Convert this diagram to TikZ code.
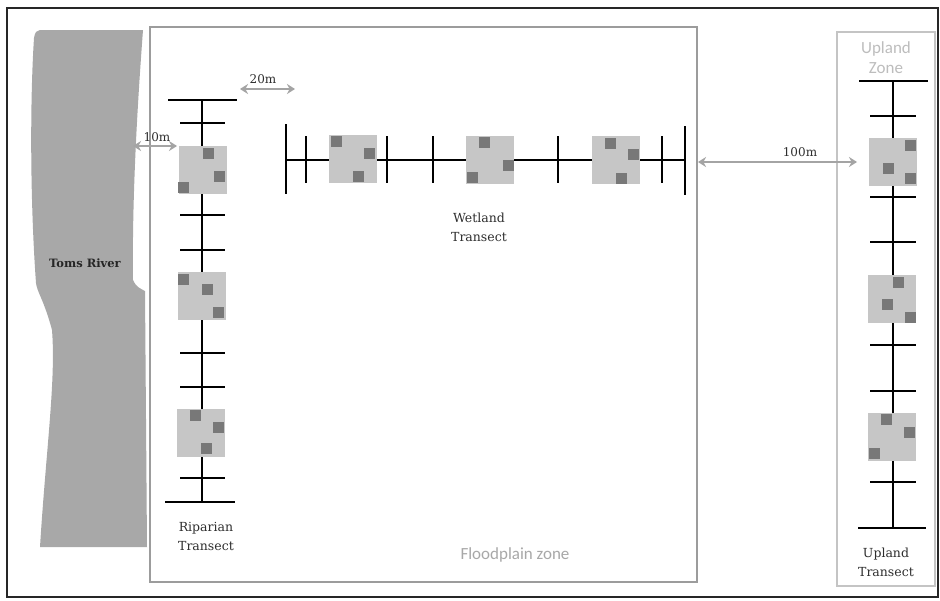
\documentclass[tikz,border=0pt]{standalone}
\usepackage{fontspec}
\setmainfont{DejaVu Serif}
\newfontfamily\zonefont{Carlito}
\usetikzlibrary{arrows.meta}
\definecolor{riverc}{HTML}{A8A8A8}
\definecolor{quadc}{HTML}{C6C6C6}
\definecolor{dotc}{HTML}{787878}
\definecolor{arrowc}{HTML}{A4A4A4}
\definecolor{fpbox}{HTML}{9C9C9C}
\definecolor{upbox}{HTML}{C4C4C4}
\definecolor{fptext}{HTML}{A8A8A8}
\definecolor{uptext}{HTML}{BDBDBD}
\definecolor{labc}{HTML}{2E2E2E}
\begin{document}
\begin{tikzpicture}[x=1pt,y=-1pt,
  quad/.style={fill=quadc, minimum size=48pt, inner sep=0pt, draw=none},
  plotsq/.style={fill=dotc, minimum size=11pt, inner sep=0pt, draw=none},
  tline/.style={line width=2.7pt, black},
  dimarrow/.style={draw=arrowc, line width=2.5pt, {Stealth[length=8pt,width=10pt]}-{Stealth[length=8pt,width=10pt]}},
  lab/.style={font=\fontsize{12.5}{19}\selectfont, text=labc, align=center, inner sep=0pt},
  dimlab/.style={font=\fontsize{12}{14}\selectfont, text=labc, inner sep=0pt},
  zonelab/.style={font=\zonefont\fontsize{17}{20}\selectfont, align=center, inner sep=0pt}
]
\useasboundingbox (0,0) rectangle (940,600);
\fill[white] (0,0) rectangle (940,600);

% outer frame
\draw[line width=1.3pt, black!85] (7,8) rectangle (938,597);

% river
\fill[riverc] (40,30) -- (143,30) .. controls (137,110) and (132,200) .. (133,280)
  .. controls (136,287) and (141,289) .. (145,291) -- (147,547) -- (40,547)
  .. controls (46,450) and (56,380) .. (52,330)
  .. controls (44,300) and (37,292) .. (36,283)
  .. controls (30,200) and (30,100) .. (34,38) .. controls (35,32) and (37,30) .. (40,30) -- cycle;
\node[font=\bfseries\fontsize{11.5}{14}\selectfont, text=black!85, inner sep=0pt] (river) at (85,263) {Toms River};

% zone boxes
\draw[fpbox, line width=2.7pt] (150,27) rectangle (697,582);
\node[zonelab, text=fptext] (fpz) at (515,555) {Floodplain zone};
\draw[upbox, line width=2.7pt] (837,32) rectangle (935,586);
\node[zonelab, text=uptext] (upz) at (886,58) {Upland\\Zone};

% ---------- Riparian transect ----------
\draw[tline] (202,100) -- (202,502);
\draw[tline] (168,100) -- (237,100);
\draw[tline] (165,502) -- (235,502);
\foreach \yy in {123,215,250,353,387,478}
  \draw[tline] (180,\yy) -- (225,\yy);
\node[quad] (R1) at (203,170) {};
\node[quad] (R2) at (202,296) {};
\node[quad] (R3) at (201,433) {};
\node[plotsq] (R1a) at (208,153) {};
\node[plotsq] (R1b) at (219,176) {};
\node[plotsq] (R1c) at (183,187) {};
\node[plotsq] (R2a) at (183,279) {};
\node[plotsq] (R2b) at (207,289) {};
\node[plotsq] (R2c) at (218,312) {};
\node[plotsq] (R3a) at (195,415) {};
\node[plotsq] (R3b) at (218,427) {};
\node[plotsq] (R3c) at (206,448) {};
\node[lab] (riplab) at (206,536) {Riparian\\Transect};

% ---------- Wetland transect ----------
\draw[tline] (286,160) -- (685,160);
\draw[tline] (286,124) -- (286,194);
\draw[tline] (685,126) -- (685,195);
\foreach \xx in {306,387,433,558,662}
  \draw[tline] (\xx,136) -- (\xx,183);
\node[quad] (W1) at (353,159) {};
\node[quad] (W2) at (490,160) {};
\node[quad] (W3) at (616,160) {};
\node[plotsq] (W1a) at (336,141) {};
\node[plotsq] (W1b) at (369,153) {};
\node[plotsq] (W1c) at (358,176) {};
\node[plotsq] (W2a) at (484,142) {};
\node[plotsq] (W2b) at (508,165) {};
\node[plotsq] (W2c) at (472,177) {};
\node[plotsq] (W3a) at (610,143) {};
\node[plotsq] (W3b) at (633,154) {};
\node[plotsq] (W3c) at (621,178) {};
\node[lab] (wetlab) at (479,227) {Wetland\\Transect};

% ---------- Upland transect ----------
\draw[tline] (893,81) -- (893,528);
\draw[tline] (859,81) -- (928,81);
\draw[tline] (858,528) -- (926,528);
\foreach \yy in {116,197,242,345,391,482}
  \draw[tline] (870,\yy) -- (916,\yy);
\node[quad] (U1) at (893,162) {};
\node[quad] (U2) at (892,299) {};
\node[quad] (U3) at (892,437) {};
\node[plotsq] (U1a) at (910,145) {};
\node[plotsq] (U1b) at (888,168) {};
\node[plotsq] (U1c) at (910,178) {};
\node[plotsq] (U2a) at (898,282) {};
\node[plotsq] (U2b) at (887,304) {};
\node[plotsq] (U2c) at (910,317) {};
\node[plotsq] (U3a) at (886,419) {};
\node[plotsq] (U3b) at (909,432) {};
\node[plotsq] (U3c) at (874,453) {};
\node[lab] (uplab) at (886,562) {Upland\\Transect};

% ---------- distance arrows ----------
\coordinate (a10l) at (133,146);
\coordinate (a10r) at (177,146);
\coordinate (a20l) at (240,89);
\coordinate (a20r) at (295,89);
\coordinate (a100l) at (698,162);
\coordinate (a100r) at (857,162);
\draw[dimarrow] (a10l) -- (a10r);
\draw[dimarrow] (a20l) -- (a20r);
\draw[dimarrow] (a100l) -- (a100r);
\node[dimlab] (l10) at (157,137) {10m};
\node[dimlab] (l20) at (263,79) {20m};
\node[dimlab] (l100) at (800,152) {100m};
\end{tikzpicture}
\end{document}
